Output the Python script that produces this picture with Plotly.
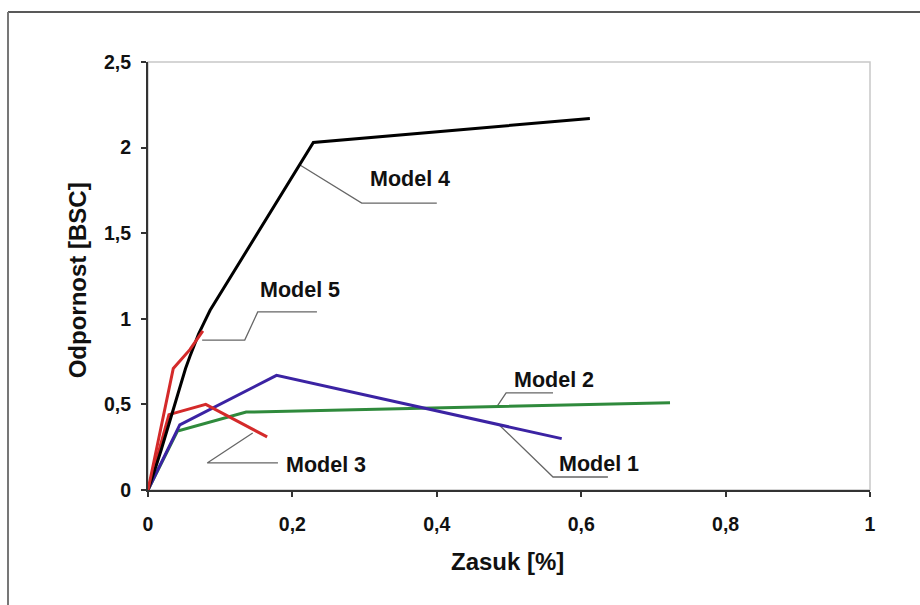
import plotly.graph_objects as go

# ---- data ----
m4_x = [0, 0.006, 0.012, 0.018, 0.024, 0.030, 0.035, 0.041, 0.047, 0.052, 0.058, 0.064, 0.070, 0.078, 0.086, 0.229, 0.612]
m4_y = [0, 0.07, 0.15, 0.23, 0.31, 0.39, 0.47, 0.555, 0.64, 0.71, 0.78, 0.845, 0.91, 0.98, 1.05, 2.03, 2.17]
m5_x = [0, 0.035, 0.058, 0.076]
m5_y = [0, 0.71, 0.82, 0.93]
m3_x = [0, 0.029, 0.080, 0.165]
m3_y = [0, 0.44, 0.50, 0.31]
m1_x = [0, 0.044, 0.178, 0.573]
m1_y = [0, 0.38, 0.67, 0.30]
m2_x = [0, 0.041, 0.136, 0.723]
m2_y = [0, 0.345, 0.455, 0.51]

x_ticks = [0, 0.2, 0.4, 0.6, 0.8, 1]
x_ticktext = ["0", "0,2", "0,4", "0,6", "0,8", "1"]
y_ticks = [0, 0.5, 1, 1.5, 2, 2.5]
y_ticktext = ["0", "0,5", "1", "1,5", "2", "2,5"]

# labels: name, leader polyline (x list, y list), label position
labels = [
    ("Model 4", [0.2105, 0.296, 0.400], [1.898, 1.676, 1.676], (0.363, 1.814)),
    ("Model 5", [0.075, 0.134, 0.152, 0.234], [0.876, 0.876, 1.040, 1.040], (0.211, 1.17)),
    ("Model 3", [0.145, 0.082, 0.180], [0.333, 0.158, 0.158], (0.246, 0.146)),
    ("Model 2", [0.483, 0.496, 0.561], [0.485, 0.567, 0.567], (0.563, 0.645)),
    ("Model 1", [0.485, 0.561, 0.637], [0.386, 0.076, 0.076], (0.625, 0.152)),
]

FONT = "Liberation Sans, Arial, sans-serif"

fig = go.Figure()

# leader lines
for name, lx, ly, _ in labels:
    fig.add_trace(go.Scatter(x=lx, y=ly, mode="lines",
                             line=dict(color="#666666", width=1.3),
                             hoverinfo="skip", showlegend=False))

series = [
    (m2_x, m2_y, "#2f8a3c"),
    (m1_x, m1_y, "#3b23a3"),
    (m3_x, m3_y, "#d42a2a"),
    (m4_x, m4_y, "#000000"),
    (m5_x, m5_y, "#d42a2a"),
]
for sx, sy, col in series:
    fig.add_trace(go.Scatter(x=sx, y=sy, mode="lines",
                             line=dict(color=col, width=3),
                             showlegend=False))

annotations = []
for name, _, _, (px, py) in labels:
    annotations.append(dict(x=px, y=py, xref="x", yref="y", text=name,
                            showarrow=False, xanchor="center", yanchor="middle",
                            font=dict(family=FONT, size=21.5, color="#111111", weight="bold")))

annotations.append(dict(x=0.4986, y=-0.166, xref="paper", yref="paper",
                        text="Zasuk [%]", showarrow=False,
                        xanchor="center", yanchor="middle",
                        font=dict(family=FONT, size=24, color="#111111", weight="bold")))
annotations.append(dict(x=-0.0983, y=0.49, xref="paper", yref="paper",
                        text="Odpornost [BSC]", showarrow=False, textangle=-90,
                        xanchor="center", yanchor="middle",
                        font=dict(family=FONT, size=24, color="#111111", weight="bold")))

shapes = [
    # plot-area box (light)
    dict(type="rect", xref="paper", yref="paper", x0=0, y0=0, x1=1, y1=1,
         line=dict(color="#c8c8c8", width=1.5), layer="below"),
    # outer frame (top and left visible)
    dict(type="line", xref="paper", yref="paper", x0=-0.1939, x1=1.08,
         y0=1.1168, y1=1.1168, line=dict(color="#222222", width=1.5)),
    dict(type="line", xref="paper", yref="paper", x0=-0.1939, x1=-0.1939,
         y0=1.1168, y1=-0.30, line=dict(color="#777777", width=2)),
]

fig.update_layout(
    width=920, height=605,
    margin=dict(l=148, r=50, t=62, b=115),
    paper_bgcolor="white", plot_bgcolor="white",
    annotations=annotations, shapes=shapes,
    font=dict(family=FONT, color="#111111"),
)
fig.update_xaxes(range=[0, 1], tickvals=x_ticks, ticktext=x_ticktext,
                 showgrid=False, zeroline=False,
                 showline=True, linecolor="#333333", linewidth=2,
                 ticks="outside", ticklen=5, tickcolor="#333333", tickwidth=1.5,
                 ticklabelstandoff=11,
                 tickfont=dict(family=FONT, size=19.5, color="#111111", weight="bold"))
fig.update_yaxes(range=[0, 2.5], tickvals=y_ticks, ticktext=y_ticktext,
                 showgrid=False, zeroline=False,
                 showline=True, linecolor="#333333", linewidth=2,
                 ticks="outside", ticklen=5, tickcolor="#333333", tickwidth=1.5,
                 ticklabelstandoff=6,
                 tickfont=dict(family=FONT, size=19.5, color="#111111", weight="bold"))

fig.write_html("out.html")
